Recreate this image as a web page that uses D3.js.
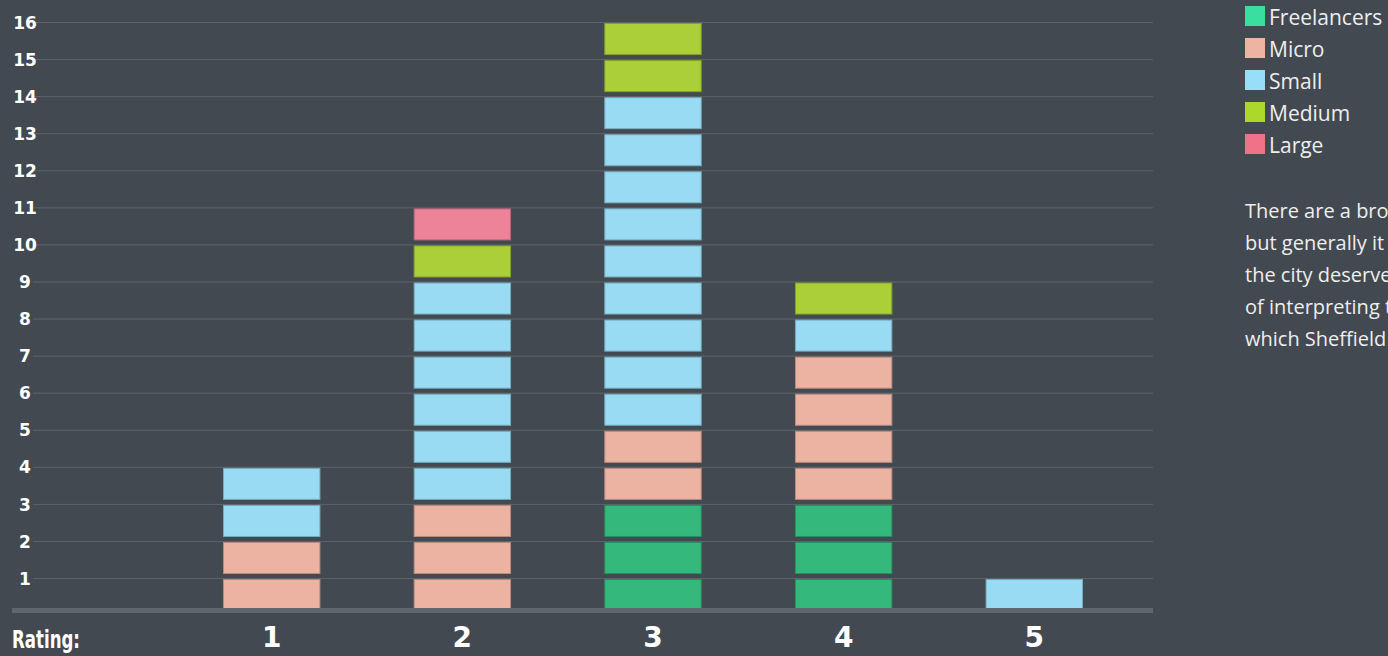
<!DOCTYPE html>
<html>
<head>
<meta charset="utf-8">
<script src="https://cdn.jsdelivr.net/npm/d3@7"></script>
<style>
  html, body { margin: 0; padding: 0; background: #424950; overflow: hidden; }
  svg { display: block; }
  .cond { font-family: 'DejaVu Sans', sans-serif; font-weight: bold; }
</style>
</head>
<body>
<div id="chart"></div>
<script>
// ratings along the bottom
var ratings = ["1", "2", "3", "4", "5"];
var seriesNames = ["Freelancers", "Micro", "Small", "Medium", "Large"];
// number of respondents of each company size per rating
var freelancers = [0, 0, 3, 3, 0];
var micro = [2, 3, 2, 4, 0];
var small = [2, 6, 9, 1, 1];
var medium = [0, 1, 2, 1, 0];
var large = [0, 1, 0, 0, 0];
var yTicks = [1, 2, 3, 4, 5, 6, 7, 8, 9, 10, 11, 12, 13, 14, 15, 16];
var noteLines = [
  "There are a broad range of opinions,",
  "but generally it is felt that",
  "the city deserves a better way",
  "of interpreting the industries for",
  "which Sheffield is famous."
];

function init() {
  var w = 1388;
  var h = 656;

  var barFill = {
    Freelancers: "#35b87b", Micro: "#ecb3a2", Small: "#98dbf3",
    Medium: "#abcf38", Large: "#ec8399"
  };
  var keyFill = {
    Freelancers: "#3ade9e", Micro: "#edb3a3", Small: "#97dff8",
    Medium: "#acd82c", Large: "#f07289"
  };

  var table = ratings.map(function(r, i) {
    return {
      rating: r,
      Freelancers: freelancers[i], Micro: micro[i], Small: small[i],
      Medium: medium[i], Large: large[i]
    };
  });

  var stacked = d3.stack().keys(seriesNames)(table);

  // one block per respondent
  var blocks = [];
  stacked.forEach(function(layer) {
    layer.forEach(function(seg, i) {
      for (var k = seg[0] + 1; k <= seg[1]; k++) {
        blocks.push({ key: layer.key, rating: ratings[i], level: k });
      }
    });
  });

  var xscale = d3.scaleBand()
                  .domain(ratings)
                  .range([223, 1083])
                  .paddingInner(0.489)
                  .paddingOuter(0);

  var yscale = d3.scaleLinear()
                  .domain([0, 16])
                  .range([615.1, 22]);

  var svg = d3.select("#chart")
              .append("svg")
              .attr("width", w)
              .attr("height", h);

  svg.append("rect")
      .attr("width", w)
      .attr("height", h)
      .attr("fill", "#424950");

  // grid + y labels
  var yAxis = d3.axisLeft(yscale)
                  .tickValues(yTicks)
                  .tickSize(-(1153 - 33))
                  .tickPadding(0)
                  .tickFormat(d3.format("d"));

  var gy = svg.append("g")
              .attr("transform", "translate(33, 0)")
              .call(yAxis);
  gy.select(".domain").remove();
  gy.selectAll(".tick line")
      .attr("stroke", "#5d646b")
      .attr("stroke-width", 1);
  gy.selectAll(".tick text")
      .attr("class", "cond")
      .attr("x", -8)
      .attr("dy", "0.36em")
      .attr("text-anchor", "middle")
      .attr("fill", "#ffffff")
      .style("font-size", "17px");

  // stacked blocks
  svg.selectAll("rect.block")
      .data(blocks)
      .enter()
      .append("rect")
      .attr("class", "block")
      .attr("x", function(d) { return xscale(d.rating) + 0.5; })
      .attr("y", function(d) { return yscale(d.level) + 1.5; })
      .attr("width", xscale.bandwidth() - 1)
      .attr("height", function(d) {
        return yscale(d.level - 1) - yscale(d.level) - 6;
      })
      .attr("fill", function(d) { return barFill[d.key]; })
      .attr("stroke", function(d) { return d3.color(barFill[d.key]).darker(0.7); })
      .attr("stroke-width", 1);

  // baseline bar
  svg.append("rect")
      .attr("x", 12)
      .attr("y", 608)
      .attr("width", 1153 - 12)
      .attr("height", 5)
      .attr("fill", "#5f666d");

  // rating labels
  var xAxis = d3.axisBottom(xscale).tickSize(0).tickPadding(0);
  var gx = svg.append("g")
              .attr("transform", "translate(0, 626)")
              .call(xAxis);
  gx.select(".domain").remove();
  gx.selectAll(".tick text")
      .attr("class", "cond")
      .attr("dy", "0.75em")
      .attr("fill", "#ffffff")
      .style("font-size", "28px");

  svg.append("text")
      .attr("class", "cond")
      .attr("x", 12)
      .attr("y", 648)
      .attr("textLength", 68)
      .attr("lengthAdjust", "spacingAndGlyphs")
      .text("Rating:")
      .attr("fill", "#ffffff")
      .style("font-size", "24px");

  // legend
  var legend = svg.selectAll("g.key")
      .data(seriesNames)
      .enter()
      .append("g")
      .attr("class", "key")
      .attr("transform", function(d, i) { return "translate(1245," + (6 + i * 32) + ")"; });

  legend.append("rect")
      .attr("width", 20)
      .attr("height", 20)
      .attr("fill", function(d) { return keyFill[d]; });

  legend.append("text")
      .attr("x", 24)
      .attr("y", 19)
      .text(function(d) { return d; })
      .attr("fill", "#eeeeee")
      .style("font-family", "'Open Sans', sans-serif")
      .style("font-size", "21px");

  // note
  svg.selectAll("text.note")
      .data(noteLines)
      .enter()
      .append("text")
      .attr("class", "note")
      .attr("x", 1245)
      .attr("y", function(d, i) { return 218 + i * 32; })
      .text(function(d) { return d; })
      .attr("fill", "#eeeeee")
      .style("font-family", "'Open Sans', sans-serif")
      .style("font-size", "20px");
}
window.onload = init;
</script>
</body>
</html>
